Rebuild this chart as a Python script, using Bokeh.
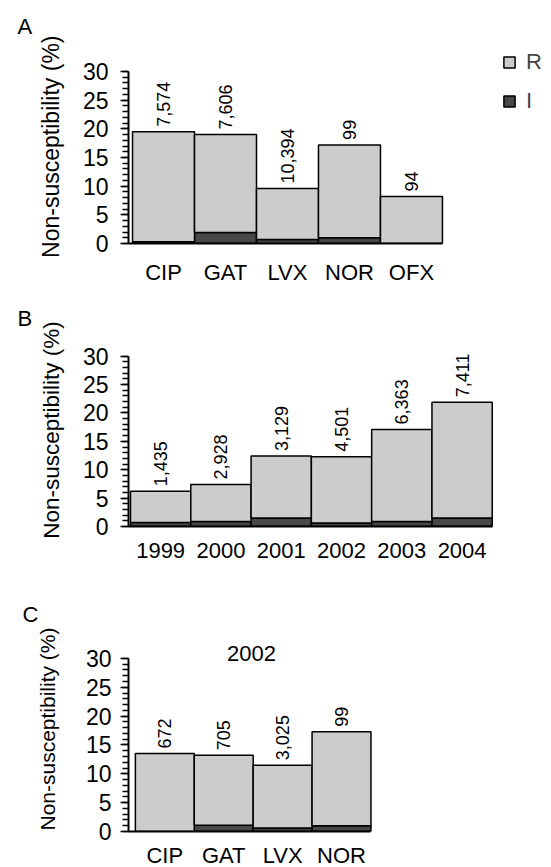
import math
from bokeh.plotting import figure
from bokeh.models import (Range1d, FixedTicker, Legend, LegendItem, Label,
                          ColumnDataSource, Title)
from bokeh.layouts import column
from bokeh.embed import file_html
from bokeh.resources import INLINE
from bokeh.core.properties import value

FONT = "Liberation Sans"
R_COLOR = "#cccccc"
I_COLOR = "#474747"

# ---- data ----
a_cats = ["CIP", "GAT", "LVX", "NOR", "OFX"]
a_I = [0.3, 1.9, 0.7, 1.0, 0.0]
a_R = [19.2, 17.1, 8.9, 16.2, 8.2]
a_n = ["7,574", "7,606", "10,394", "99", "94"]

b_cats = ["1999", "2000", "2001", "2002", "2003", "2004"]
b_I = [0.7, 0.9, 1.5, 0.6, 0.9, 1.5]
b_R = [5.5, 6.5, 10.9, 11.7, 16.2, 20.4]
b_n = ["1,435", "2,928", "3,129", "4,501", "6,363", "7,411"]

c_cats = ["CIP", "GAT", "LVX", "NOR"]
c_I = [0.0, 1.1, 0.6, 1.0]
c_R = [13.5, 12.1, 10.9, 16.3]
c_n = ["672", "705", "3,025", "99"]

y_ticks = [0, 5, 10, 15, 20, 25, 30]
y_minor = list(range(0, 31))


def panel(cats, I, R, n, height, left, top, bottom, xs, xe, ye,
          ylab_standoff, title, title_size, title_standoff, xlab_standoff,
          letter, letter_offset, letter_standoff):
    x = list(range(1, len(cats) + 1))
    tops = [a + b for a, b in zip(I, R)]
    src = ColumnDataSource(dict(x=x, I=I, R=R, top=tops, n=n))
    p = figure(width=543, height=height, output_backend="svg",
               toolbar_location=None,
               x_range=Range1d(xs, xe), y_range=Range1d(0, ye),
               min_border_left=left, min_border_right=0,
               min_border_top=top, min_border_bottom=bottom)
    p.outline_line_color = None
    p.xgrid.visible = False
    p.ygrid.visible = False
    rs = p.vbar_stack(["I", "R"], x="x", width=1, source=src,
                      fill_color=[I_COLOR, R_COLOR], line_color="black",
                      line_width=1.5)
    p.text(x="x", y="top", text="n", source=src, angle=math.pi / 2,
           text_align="left", text_baseline="middle", y_offset=-5,
           text_font=value(FONT), text_font_size="18px", text_color="black")

    xa = p.xaxis[0]
    xa.ticker = FixedTicker(ticks=x)
    xa.major_label_overrides = {i: c for i, c in zip(x, cats)}
    xa.major_tick_line_color = None
    xa.minor_tick_line_color = None
    xa.axis_line_width = 2
    xa.bounds = (xs, len(cats) + 0.5)
    xa.major_label_text_font = FONT
    xa.major_label_text_font_size = "22px"
    xa.major_label_text_color = "black"
    xa.major_label_standoff = xlab_standoff

    ya = p.yaxis[0]
    ya.ticker = FixedTicker(ticks=y_ticks, minor_ticks=y_minor)
    ya.bounds = (0, 30)
    ya.axis_line_width = 2
    ya.major_tick_in = 0
    ya.major_tick_out = 8
    ya.minor_tick_in = 0
    ya.minor_tick_out = 6
    ya.major_tick_line_width = 1.5
    ya.minor_tick_line_width = 1.5
    ya.major_label_text_font = FONT
    ya.major_label_text_font_size = "23px"
    ya.major_label_text_color = "black"
    ya.major_label_standoff = ylab_standoff
    ya.axis_label = title
    ya.axis_label_text_font = FONT
    ya.axis_label_text_font_size = title_size
    ya.axis_label_text_font_style = "normal"
    ya.axis_label_text_color = "black"
    ya.axis_label_standoff = title_standoff

    p.add_layout(Title(text=letter, align="left", offset=letter_offset,
                       standoff=letter_standoff, text_font=FONT,
                       text_font_size="22px", text_font_style="normal",
                       text_color="black"), "above")
    return p, rs


pa, ra = panel(a_cats, a_I, a_R, a_n, 300, 128, 43, 57, 0.435, 7.13, 34.88,
               12, "Non-susceptibility  (%)", "23px", 16, 10,
               "A", -111, 9)
legend = Legend(items=[LegendItem(label="R", renderers=[ra[1]]),
                       LegendItem(label="I", renderers=[ra[0]])],
                location=(374, 129), border_line_color=None,
                background_fill_alpha=0, label_text_font=FONT,
                label_text_font_size="22px", glyph_width=14, glyph_height=14,
                spacing=13, label_standoff=10, padding=0, margin=0)
pa.add_layout(legend)

pb, rb = panel(b_cats, b_I, b_R, b_n, 280, 128, 30, 54, 0.467, 7.35, 33.99,
               12, "Non-susceptibility (%)", "22.5px", 16, 10,
               "B", -111, 6)

pc, rc = panel(c_cats, c_I, c_R, c_n, 290, 122, 46, 32, 0.383, 7.43, 35.53,
               9, "Non-susceptibility (%)", "21px", 24, 5,
               "C", -106, 0)
pc.add_layout(Label(x=123, y=186, x_units="screen", y_units="screen",
                    text="2002", text_font=FONT, text_font_size="22px",
                    text_baseline="top", text_align="center",
                    text_color="black"))

layout = column(pa, pb, pc, spacing=0)
open("out.html", "w").write(file_html(layout, INLINE))
